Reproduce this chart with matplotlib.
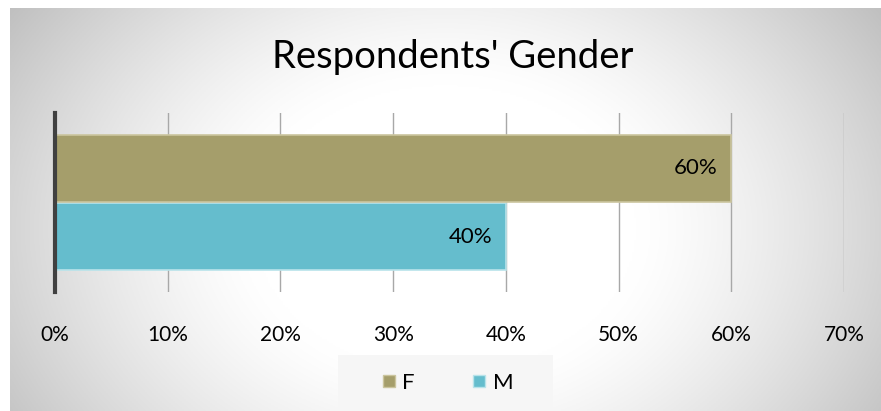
import matplotlib
matplotlib.use("Agg")
import matplotlib.pyplot as plt
import numpy as np
from matplotlib.lines import Line2D

# ── Data ─────────────────────────────────────────────────────────
categories = ["M", "F"]          # bottom to top
shares     = [0.40, 0.60]
bar_colors = {"F": "#a59e6b", "M": "#65bdcd"}
edge_colors = {"F": "#cbc59e", "M": "#b8e3ea"}
x_ticks    = [0.0, 0.1, 0.2, 0.3, 0.4, 0.5, 0.6, 0.7]

FONT = "Lato"
W, H = 881, 411

fig = plt.figure(figsize=(W / 100, H / 100), dpi=100)
fig.patch.set_facecolor("white")

# ── Radial gradient panel ────────────────────────────────────────
px0, py0 = 10, 8
bg = fig.add_axes([px0 / W, 0, 1 - px0 / W, 1 - py0 / H])
bg.set_axis_off()
gx = np.linspace(0, 1, 400)
gy = np.linspace(0, 1, 200)
X, Y = np.meshgrid(gx, gy)
d = np.sqrt(((X - 0.5) / 0.55) ** 2 + ((Y - 0.55) / 0.9) ** 2)
val = 1.0 - 0.25 * np.clip((d - 0.4) / 0.7, 0, 1) ** 1.3
img = np.dstack([val, val, val])
bg.imshow(img, aspect="auto", extent=[0, 1, 1, 0], origin="upper")
bg.set_xlim(0, 1)
bg.set_ylim(1, 0)

# ── Legend box ───────────────────────────────────────────────────
lg = fig.add_axes([338 / W, 0, (553 - 338) / W, (411 - 355) / H])
lg.set_facecolor("#f6f6f6")
lg.set_xticks([])
lg.set_yticks([])
for s in lg.spines.values():
    s.set_visible(False)
handles = [
    Line2D([0], [0], marker="s", linestyle="", markersize=8.5,
           markerfacecolor=bar_colors[c], markeredgecolor=edge_colors[c],
           markeredgewidth=1, label=c)
    for c in ["F", "M"]
]
lg.legend(handles=handles, loc="center", ncol=2, frameon=False,
          prop={"family": FONT, "size": 16}, handletextpad=0.1,
          columnspacing=2.4, handlelength=1.0)

# ── Main axes ────────────────────────────────────────────────────
ax = fig.add_axes([55 / W, 1 - 292 / H, (844 - 55) / W, (292 - 113) / H])
ax.patch.set_alpha(0)
y_pos = np.arange(len(categories))
bars = ax.barh(y_pos, shares, height=0.985,
               color=[bar_colors[c] for c in categories],
               edgecolor=[edge_colors[c] for c in categories],
               linewidth=1.2, zorder=2)
ax.set_xlim(0, 0.7)
ax.set_ylim(-0.816, 1.816)
ax.set_yticks([])
ax.set_xticks(x_ticks)
ax.set_xticklabels([f"{int(round(t * 100))}%" for t in x_ticks],
                   fontfamily=FONT, fontsize=15)
ax.tick_params(axis="x", length=0, pad=24)
ax.grid(axis="x", color="#a8a8a8", linewidth=1.0, zorder=1)
for s in ["top", "right", "bottom"]:
    ax.spines[s].set_visible(False)
ax.spines["left"].set_color("#404040")
ax.spines["left"].set_linewidth(3)
ax.spines["left"].set_zorder(3)

for b, v in zip(bars, shares):
    ax.text(v - 0.012, b.get_y() + b.get_height() / 2, f"{int(round(v * 100))}%",
            ha="right", va="center", fontfamily=FONT, fontsize=16,
            color="black", zorder=4)

fig.text(453 / W, 1 - 57 / H, "Respondents' Gender", ha="center", va="center",
         fontfamily=FONT, fontsize=27.5, color="black")

fig.savefig("out.png", dpi=100)
